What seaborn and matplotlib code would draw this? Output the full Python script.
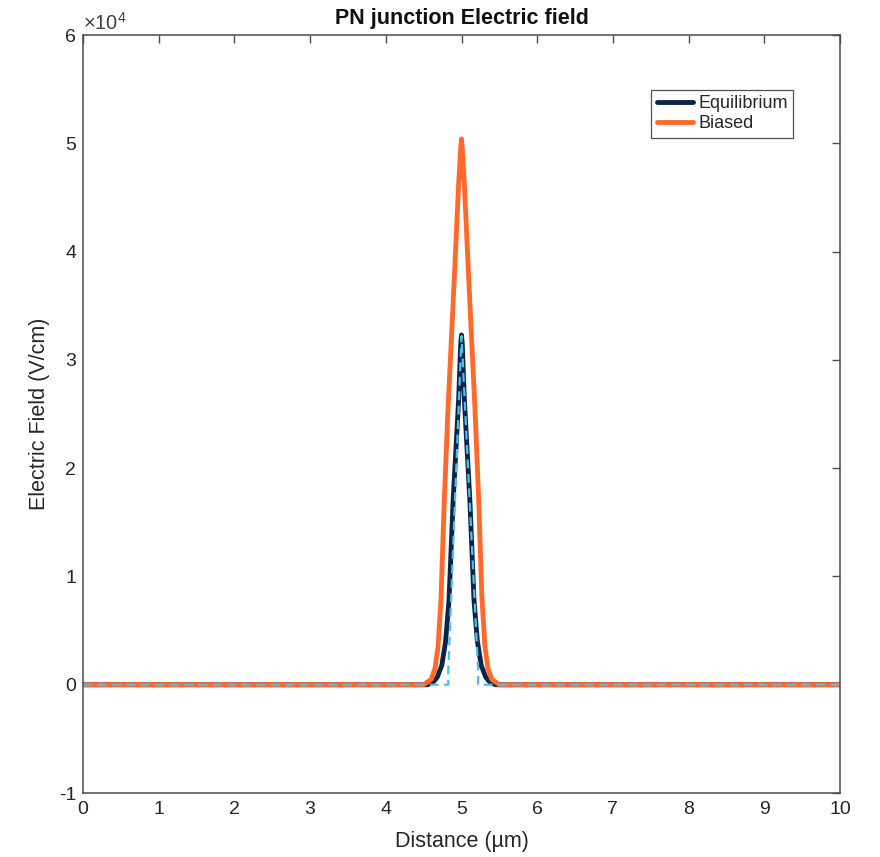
import numpy as np
import pandas as pd
import matplotlib
matplotlib.use("Agg")
import matplotlib.pyplot as plt
import seaborn as sns
from matplotlib.ticker import FuncFormatter, MultipleLocator
from matplotlib.lines import Line2D

# ---- data ----
# Equilibrium electric field (V/cm) vs distance (um)
eq_x = [0, 4.55, 4.62, 4.68, 4.74, 4.79, 4.835, 4.89, 4.962, 4.99, 5.0, 5.01,
        5.038, 5.11, 5.165, 5.21, 5.26, 5.32, 5.38, 5.45, 10]
eq_E = [0, 0, 200, 700, 1800, 4000, 7800, 17100, 26300, 31500, 32300, 31500,
        26300, 17100, 7800, 4000, 1800, 700, 200, 0, 0]

# Biased electric field
bi_x = [0, 4.50, 4.60, 4.65, 4.69, 4.73, 4.773, 4.822, 4.872, 4.919, 4.962, 4.99, 5.0,
        5.01, 5.038, 5.081, 5.128, 5.178, 5.227, 5.27, 5.31, 5.35, 5.40, 5.50, 10]
bi_E = [0, 0, 500, 1500, 3500, 8000, 17100, 25500, 32700, 39700, 46200, 49600, 50400,
        49600, 46200, 39700, 32700, 25500, 17100, 8000, 3500, 1500, 500, 0, 0]

# Depletion-approximation field (dashed)
dep_x = [0, 4.825, 4.825, 5.0, 5.22, 5.22, 10]
dep_E = [0, 0, 1200, 32200, 1200, 0, 0]

title = "PN junction Electric field"
xlabel = "Distance (\u00b5m)"
ylabel = "Electric Field (V/cm)"
legend_labels = ["Equilibrium", "Biased"]

# ---- styling ----
sns.set_style("white")
plt.rcParams["font.family"] = ["Liberation Sans", "DejaVu Sans"]
plt.rcParams["mathtext.fontset"] = "custom"
plt.rcParams["mathtext.rm"] = "Liberation Sans"

navy = "#0b2447"
orange = "#ff6a2b"
lblue = "#4dbeee"
axcol = "#4a4a4a"

fig = plt.figure(figsize=(8.8, 8.57), dpi=100)
ax = fig.add_axes([83/880, 1-793/857, (840-83)/880, (793-35)/857])

df_eq = pd.DataFrame({"x": eq_x, "E": eq_E})
df_bi = pd.DataFrame({"x": bi_x, "E": bi_E})
df_dep = pd.DataFrame({"x": dep_x, "E": dep_E})

LW = 3.5
sns.lineplot(data=df_eq, x="x", y="E", ax=ax, color=navy, lw=LW,
             estimator=None, sort=False, solid_capstyle="round", solid_joinstyle="round")
sns.lineplot(data=df_bi, x="x", y="E", ax=ax, color=orange, lw=LW,
             estimator=None, sort=False, solid_capstyle="round", solid_joinstyle="round")
sns.lineplot(data=df_dep, x="x", y="E", ax=ax, color=lblue, lw=1.6,
             estimator=None, sort=False, dashes=False)
ax.lines[-1].set_dashes((4, 2.5))

ax.set_xlim(0, 10)
ax.set_ylim(-1e4, 6e4)
ax.xaxis.set_major_locator(MultipleLocator(1))
ax.yaxis.set_major_locator(MultipleLocator(1e4))
ax.yaxis.set_major_formatter(FuncFormatter(lambda v, p: f"{v/1e4:g}"))

for s in ax.spines.values():
    s.set_visible(True)
    s.set_color(axcol)
    s.set_linewidth(1.1)
ax.tick_params(direction="in", length=6, width=1.0, color=axcol,
               top=True, right=True, labelsize=14, labelcolor="#262626", pad=5)
ax.tick_params(axis="x", pad=6)

ax.set_xlabel(xlabel, fontsize=15.5, color="#262626", labelpad=9)
ax.set_ylabel(ylabel, fontsize=15.5, color="#262626", labelpad=6)
ax.set_title(title, fontsize=15.5, fontweight="bold", color="#111111", pad=8)

ax.text(0.0, 1.002, r"$\times10^{4}$", transform=ax.transAxes, fontsize=14.5,
        color="#404040", ha="left", va="bottom")

handles = [Line2D([], [], color=navy, lw=LW), Line2D([], [], color=orange, lw=LW)]
leg = ax.legend(handles, legend_labels, loc="upper right",
                fontsize=13, frameon=True, fancybox=False, edgecolor="#262626",
                handlelength=2.0, handletextpad=0.3, borderpad=0.3, labelspacing=0.15,
                borderaxespad=0)
leg.get_frame().set_linewidth(0.9)
# top-right corner of the legend box at (793, 90) px
leg.set_bbox_to_anchor(((793-83)/757, (793-90)/758), transform=ax.transAxes)

fig.savefig("out.png", dpi=100)
